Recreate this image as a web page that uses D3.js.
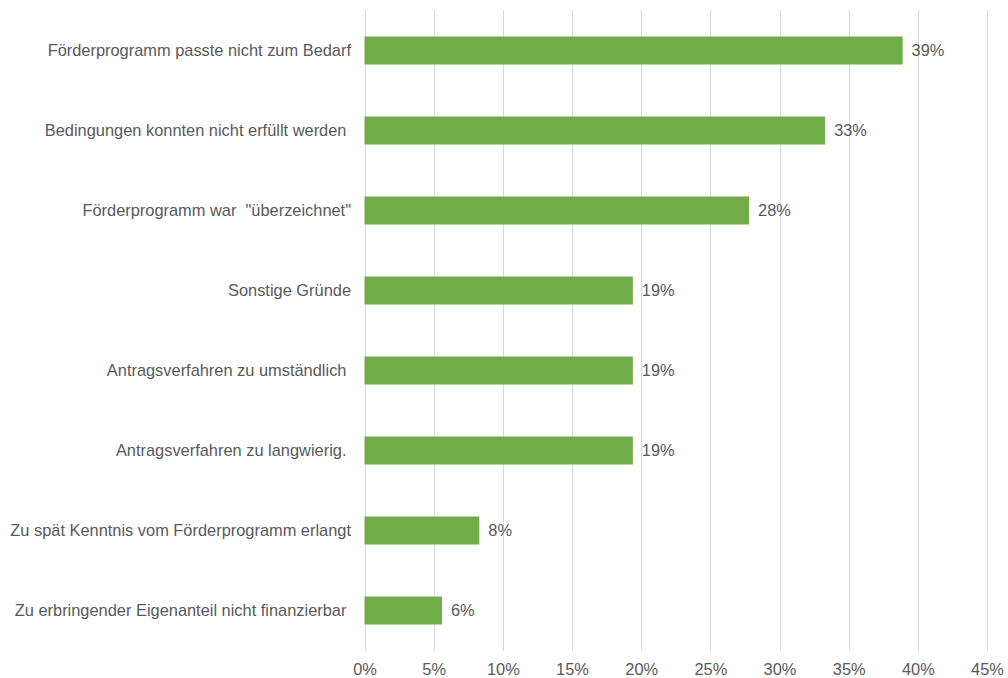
<!DOCTYPE html>
<html>
<head>
<meta charset="utf-8">
<script src="https://cdn.jsdelivr.net/npm/d3@7/dist/d3.min.js"></script>
<style>
  html, body { margin: 0; padding: 0; background: #fff; }
  svg text { font-family: "Liberation Sans", Arial, sans-serif; fill: #595959; }
</style>
</head>
<body>
<svg id="chart" width="1008" height="678"></svg>
<script>
const categories = [
  "Förderprogramm passte nicht zum Bedarf",
  "Bedingungen konnten nicht erfüllt werden ",
  "Förderprogramm war  \"überzeichnet\"",
  "Sonstige Gründe",
  "Antragsverfahren zu umständlich ",
  "Antragsverfahren zu langwierig. ",
  "Zu spät Kenntnis vom Förderprogramm erlangt",
  "Zu erbringender Eigenanteil nicht finanzierbar "
];
const values = [38.9, 33.3, 27.8, 19.4, 19.4, 19.4, 8.3, 5.6];
const valueLabels = ["39%", "33%", "28%", "19%", "19%", "19%", "8%", "6%"];
const ticks = [0, 5, 10, 15, 20, 25, 30, 35, 40, 45];

const FS = 16.4;
const svg = d3.select("#chart");
const x = d3.scaleLinear().domain([0, 45]).range([364.5, 987]);
const y = d3.scaleBand().domain(categories).range([10.5, 650.5]).paddingInner(0.65).paddingOuter(0.325);

// gridlines
svg.append("g").selectAll("line").data(ticks).join("line")
  .attr("x1", d => Math.round(x(d)) + 0.5).attr("x2", d => Math.round(x(d)) + 0.5)
  .attr("y1", 10).attr("y2", 651)
  .attr("stroke", "#d9d9d9").attr("stroke-width", 1);

// x axis labels
const xAxis = d3.axisBottom(x).tickValues(ticks).tickFormat(d => d + "%").tickSize(0).tickPadding(0);
const gx = svg.append("g").attr("transform", "translate(0,663.5)").call(xAxis);
gx.select(".domain").remove();
gx.selectAll("text").attr("font-size", FS).attr("fill", "#595959")
  .style("font-family", '"Liberation Sans", Arial, sans-serif');

// bars
svg.append("g").selectAll("rect").data(values).join("rect")
  .attr("x", x(0))
  .attr("y", (d, i) => y(categories[i]))
  .attr("width", d => x(d) - x(0))
  .attr("height", y.bandwidth())
  .attr("fill", "#70ad47");

// value labels
svg.append("g").selectAll("text").data(values).join("text")
  .attr("x", d => x(d) + 9)
  .attr("y", (d, i) => y(categories[i]) + y.bandwidth() / 2)
  .attr("dy", "0.35em")
  .attr("font-size", FS)
  .text((d, i) => valueLabels[i]);

// category labels
svg.append("g").selectAll("text").data(categories).join("text")
  .attr("x", 351)
  .attr("y", d => y(d) + y.bandwidth() / 2)
  .attr("dy", "0.35em")
  .attr("text-anchor", "end")
  .attr("font-size", FS)
  .style("white-space", "pre")
  .attr("xml:space", "preserve")
  .text(d => d);
</script>
</body>
</html>
